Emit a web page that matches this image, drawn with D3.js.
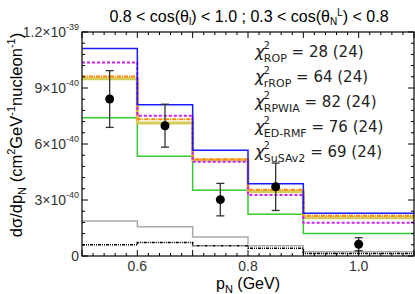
<!DOCTYPE html>
<html>
<head>
  <meta charset="utf-8">
  <script src="https://cdn.jsdelivr.net/npm/d3@7"></script>
  <style>
    body { margin: 0; background: #fff; }
    text { font-family: "Liberation Sans", Arial, sans-serif; }
  </style>
</head>
<body>
  <svg id="chart" width="415" height="294"></svg>
  <script>
    // bin edges in p_N (GeV)
    var binEdges = [0.5, 0.6, 0.7, 0.8, 0.9, 1.1];
    // model predictions per bin, in units of 1e-40
    var rop     = [11.12, 8.10, 5.66, 3.87, 2.29];
    var rrop    = [10.37, 7.52, 5.05, 3.27, 1.78];
    var rpwia   = [9.61, 7.32, 5.18, 3.55, 2.16];
    var edrmf   = [9.50, 7.12, 5.13, 3.44, 2.05];
    var susa    = [7.41, 5.34, 3.52, 2.23, 1.21];
    var grayCurve  = [1.87, 1.57, 1.02, 0.55, 0.23];
    var blackCurve = [0.60, 0.72, 0.55, 0.41, 0.14];
    // data points
    var dataX   = [0.55, 0.65, 0.75, 0.85, 1.0];
    var dataY   = [8.41, 6.98, 3.02, 3.71, 0.63];
    var dataErr = [1.52, 1.15, 0.87, 1.27, 0.35];
    var yTicks = [0, 3, 6, 9, 12];
    var yTickLabels = [["0", ""], ["3×10", "-40"], ["6×10", "-40"], ["9×10", "-40"], ["1.2×10", "-39"]];
    var xTicks = [0.6, 0.8, 1.0];
    var chiLabels = [
      ["ROP", " = 28 (24)"],
      ["rROP", " = 64 (24)"],
      ["RPWIA", " = 82 (24)"],
      ["ED-RMF", " = 76 (24)"],
      ["SuSAv2", " = 69 (24)"]
    ];

    var margin = { left: 82, right: 1, top: 32, bottom: 38 };
    var W = 415, H = 294;
    var svg = d3.select("#chart");

    var x = d3.scaleLinear().domain([0.5, 1.1]).range([margin.left, W - margin.right]);
    var y = d3.scaleLinear().domain([0, 12]).range([H - margin.bottom, margin.top]);

    var curves = [
      { vals: grayCurve,  color: "#aaaaaa", width: 1.5, dash: null },
      { vals: blackCurve, color: "#000000", width: 1.5, dash: "3,1,1,1,1,1" },
      { vals: susa,       color: "#33cc33", width: 1.5, dash: null },
      { vals: edrmf,      color: "#d6cc5a", width: 3,   dash: null },
      { vals: rpwia,      color: "#ff8800", width: 2,   dash: "4,1,1,1" },
      { vals: rrop,       color: "#cc22ee", width: 2,   dash: "3,2" },
      { vals: rop,        color: "#1a1aff", width: 1.5, dash: null }
    ];

    var line = d3.line()
      .x(function (d) { return x(d[0]); })
      .y(function (d) { return y(d[1]); })
      .curve(d3.curveStepAfter);

    curves.forEach(function (c) {
      var pts = binEdges.map(function (e, i) {
        return [e, c.vals[Math.min(i, c.vals.length - 1)]];
      });
      svg.append("path")
        .attr("d", line(pts))
        .attr("fill", "none")
        .attr("stroke", c.color)
        .attr("stroke-width", c.width)
        .attr("stroke-dasharray", c.dash);
    });

    // error bars + points
    var pts = svg.append("g");
    dataX.forEach(function (d, i) {
      var cx = x(d);
      var top = y(dataY[i] + dataErr[i]), bot = y(dataY[i] - dataErr[i]);
      pts.append("line").attr("x1", cx).attr("x2", cx).attr("y1", top).attr("y2", bot)
        .attr("stroke", "#333").attr("stroke-width", 1.3);
      [top, bot].forEach(function (yy) {
        pts.append("line").attr("x1", cx - 4).attr("x2", cx + 4).attr("y1", yy).attr("y2", yy)
          .attr("stroke", "#333").attr("stroke-width", 1.3);
      });
      pts.append("circle").attr("cx", cx).attr("cy", y(dataY[i])).attr("r", 4.5).attr("fill", "#000");
    });

    // frame
    svg.append("rect")
      .attr("x", x(0.5)).attr("y", y(12))
      .attr("width", x(1.1) - x(0.5)).attr("height", y(0) - y(12))
      .attr("fill", "none").attr("stroke", "#000").attr("stroke-width", 1.2);

    // ticks, inward on all four sides
    var tk = svg.append("g").attr("stroke", "#000").attr("stroke-width", 1);
    d3.range(25, 56).forEach(function (k) {
      var v = k / 50;
      var major = Math.abs(v * 10 - Math.round(v * 10)) < 1e-6;
      var len = major ? 6 : 3;
      tk.append("line").attr("x1", x(v)).attr("x2", x(v)).attr("y1", y(0)).attr("y2", y(0) - len);
      tk.append("line").attr("x1", x(v)).attr("x2", x(v)).attr("y1", y(12)).attr("y2", y(12) + len);
    });
    d3.range(0, 21).forEach(function (k) {
      var v = k * 0.6;
      var len = k % 5 === 0 ? 6 : 3;
      tk.append("line").attr("x1", x(0.5)).attr("x2", x(0.5) + len).attr("y1", y(v)).attr("y2", y(v));
      tk.append("line").attr("x1", x(1.1)).attr("x2", x(1.1) - len).attr("y1", y(v)).attr("y2", y(v));
    });

    // x tick labels
    xTicks.forEach(function (v) {
      svg.append("text").attr("x", x(v)).attr("y", y(0) + 15)
        .attr("text-anchor", "middle").attr("font-size", 14).attr("fill", "#333")
        .text(d3.format(".1f")(v));
    });

    // y tick labels
    yTicks.forEach(function (v, i) {
      var t = svg.append("text").attr("x", x(0.5) - 3).attr("y", y(v) + 5)
        .attr("text-anchor", "end").attr("font-size", 14).attr("fill", "#333");
      t.append("tspan").text(yTickLabels[i][0]);
      if (yTickLabels[i][1]) {
        t.append("tspan").attr("dy", -7).attr("font-size", 9).text(yTickLabels[i][1]);
      }
    });

    // title
    var title = svg.append("text").attr("x", 249).attr("y", 22)
      .attr("text-anchor", "middle").attr("font-size", 16).attr("fill", "#000");
    title.append("tspan").text("0.8 < cos(θ");
    title.append("tspan").attr("dy", 3).attr("font-size", 10).text("l");
    title.append("tspan").attr("dy", -3).text(") < 1.0 ; 0.3 < cos(θ");
    title.append("tspan").attr("dy", 3).attr("font-size", 10).text("N");
    title.append("tspan").attr("dy", -9).attr("font-size", 10).text("L");
    title.append("tspan").attr("dy", 6).text(") < 0.8");

    // x title
    var xt = svg.append("text").attr("x", 248).attr("y", 289)
      .attr("text-anchor", "middle").attr("font-size", 16).attr("fill", "#000");
    xt.append("tspan").text("p");
    xt.append("tspan").attr("dy", 4).attr("font-size", 11).text("N");
    xt.append("tspan").attr("dy", -4).text(" (GeV)");

    // y title
    var yt = svg.append("text").attr("transform", "translate(22,135) rotate(-90)")
      .attr("text-anchor", "middle").attr("font-size", 16.5).attr("fill", "#000");
    yt.append("tspan").text("dσ/dp");
    yt.append("tspan").attr("dy", 4).attr("font-size", 11).text("N");
    yt.append("tspan").attr("dy", -4).text(" (cm");
    yt.append("tspan").attr("dy", -7).attr("font-size", 11).text("2");
    yt.append("tspan").attr("dy", 7).text("GeV");
    yt.append("tspan").attr("dy", -7).attr("font-size", 11).text("-1");
    yt.append("tspan").attr("dy", 7).text("nucleon");
    yt.append("tspan").attr("dy", -7).attr("font-size", 11).text("-1");
    yt.append("tspan").attr("dy", 7).text(")");

    // chi2 legend
    chiLabels.forEach(function (c, i) {
      var t = svg.append("text").attr("x", 255).attr("y", 57 + i * 25)
        .attr("font-size", 15).attr("fill", "#222")
        .style("font-family", "'DejaVu Sans', sans-serif");
      t.append("tspan").attr("font-style", "italic").attr("font-size", 16).text("χ");
      t.append("tspan").attr("dx", -1).attr("dy", -8).attr("font-size", 10).text("2");
      t.append("tspan").attr("dx", -6).attr("dy", 12.5).attr("font-size", 11).text(c[0]);
      t.append("tspan").attr("dy", -4.5).text(c[1]);
    });
  </script>
</body>
</html>
